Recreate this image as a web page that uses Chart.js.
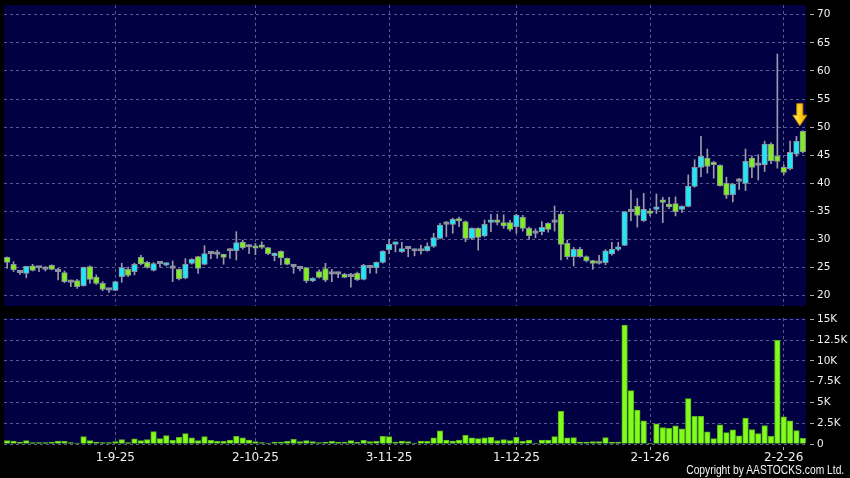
<!DOCTYPE html>
<html>
<head>
<meta charset="utf-8">
<script src="https://cdn.jsdelivr.net/npm/chart.js@4.4.1/dist/chart.umd.min.js"></script>
<style>
html,body{margin:0;padding:0;background:#000;}
#wrap{position:relative;width:850px;height:478px;overflow:hidden;background:#000;}
#pc{position:absolute;left:0;top:0;}
#vc{position:absolute;left:0;top:310px;}
#copy{position:absolute;right:6px;top:464px;color:#f2f2f2;font-family:"Liberation Sans Narrow","Liberation Sans",Arial,sans-serif;font-size:12.5px;line-height:12.5px;white-space:nowrap;transform-origin:right center;}
</style>
</head>
<body>
<div id="wrap">
  <canvas id="pc" width="850" height="310"></canvas>
  <canvas id="vc" width="850" height="168"></canvas>
  <div id="copy">Copyright by AASTOCKS.com Ltd.</div>
</div>
<script>
// ---------------- DATA ----------------
const open = [
 26.83,25.58,24.1,23.98,25.3,24.93,24.7,25.4,24.28,24.1,
 22.38,22.7,21.8,25.17,23.3,22.2,21.0,20.95,23.39,24.7,
 24.28,26.83,25.94,24.5,25.7,25.45,24.87,24.7,23.1,25.76,
 26.95,25.58,27.48,27.36,27.36,27.95,28.01,29.56,28.67,28.8,
 28.96,28.55,27.12,27.9,26.65,25.17,24.8,24.99,22.62,24.3,
 24.85,23.85,23.85,23.8,23.39,23.98,22.9,25.0,25.0,25.94,
 28.19,29.14,27.84,28.37,27.95,27.95,28.01,28.78,30.21,32.7,
 32.7,33.59,33.18,30.21,31.99,30.63,33.05,33.3,33.0,33.0,
 32.3,33.95,31.99,31.1,31.4,32.88,33.06,34.54,29.32,26.95,
 28.25,26.95,26.24,25.76,25.88,27.42,28.25,28.97,34.95,35.9,
 33.35,35.0,35.37,36.97,36.26,36.4,35.37,35.9,39.46,42.84,
 44.5,43.6,43.2,40.05,37.97,40.35,40.0,44.5,43.2,43.3,
 46.99,44.9,42.84,42.6,45.2,49.24
];
const high = [
 26.9,26.06,24.4,25.23,25.58,25.2,25.17,25.5,24.87,24.4,
 22.8,22.9,25.1,25.3,23.7,22.5,21.3,22.6,25.76,25.1,
 25.8,27.2,26.1,25.9,26.0,25.8,26.2,24.8,26.6,26.6,
 27.0,28.9,27.6,28.1,27.4,28.4,31.4,29.9,29.1,29.3,
 29.6,28.6,27.6,28.0,26.7,25.5,25.2,25.0,23.2,24.6,
 25.76,24.7,24.2,24.0,24.0,24.2,25.6,25.3,26.0,28.0,
 30.1,29.6,29.5,28.5,28.3,29.0,29.4,31.1,32.9,33.2,
 33.8,34.0,33.3,32.1,32.1,33.47,34.5,34.5,34.4,33.4,
 34.5,34.3,32.2,31.9,33.2,33.0,35.96,35.0,29.9,28.6,
 28.6,27.1,26.3,27.2,28.2,29.5,29.5,35.0,38.8,37.3,
 38.2,35.5,38.1,37.5,37.5,37.6,36.0,41.5,44.2,48.35,
 46.1,43.9,43.3,41.1,40.0,40.9,46.1,44.9,45.1,47.5,
 47.2,63.0,43.3,47.5,48.35,49.36
];
const low = [
 24.87,24.3,23.8,23.2,24.4,24.3,24.4,24.6,22.8,22.3,
 21.6,21.3,21.7,22.2,22.0,20.9,20.6,20.9,22.4,23.4,
 23.7,25.5,24.9,24.4,25.1,25.3,22.5,22.8,23.0,25.6,
 23.98,25.5,26.6,26.65,25.6,26.65,26.35,28.3,27.5,27.3,
 28.4,27.3,26.2,25.5,25.5,23.98,24.4,22.3,22.5,23.1,
 22.5,22.5,23.2,23.2,21.5,22.7,22.8,24.0,24.0,25.8,
 27.5,27.8,27.7,26.95,27.1,27.4,27.9,28.6,30.1,30.5,
 31.1,32.3,29.6,30.0,28.1,30.5,31.4,32.6,32.0,31.5,
 31.1,31.5,30.0,30.3,30.8,31.3,31.5,26.35,26.5,25.3,
 26.8,26.0,24.7,25.6,25.5,27.2,28.0,28.9,33.35,32.2,
 33.2,34.2,34.6,33.0,35.5,34.2,34.8,35.8,39.3,41.2,
 41.8,40.9,39.5,37.3,36.7,38.9,38.7,41.0,40.6,42.1,
 43.5,42.7,41.5,42.4,44.8,45.4
];
const close = [
 25.94,24.57,24.1,25.23,24.5,24.93,24.7,24.7,24.28,22.5,
 22.38,21.6,25.05,22.9,22.2,21.1,21.0,22.5,24.99,23.6,
 25.58,25.64,25.05,25.7,25.7,25.7,24.87,22.97,25.58,26.47,
 24.87,27.48,27.48,27.36,26.83,27.95,29.44,28.55,28.67,28.45,
 28.6,27.48,27.48,26.77,25.58,25.17,24.8,22.62,23.1,23.27,
 22.75,23.85,23.85,23.27,23.39,22.85,25.4,25.0,25.94,27.95,
 29.14,29.5,28.37,28.37,27.95,27.95,28.78,30.33,32.58,32.7,
 33.59,33.3,30.21,31.99,30.39,32.7,33.35,33.05,32.4,31.8,
 34.36,31.99,30.68,31.1,32.17,31.81,33.06,29.14,26.95,28.25,
 26.95,26.24,25.76,25.76,28.0,28.25,28.67,34.95,34.95,34.3,
 35.37,34.65,35.72,36.6,35.84,34.96,35.9,39.46,42.84,44.8,
 43.0,43.3,39.6,37.9,39.87,40.35,43.9,42.84,43.2,46.99,
 44.0,43.9,41.95,45.5,47.47,45.6
];
const volume = [
 405,365,200,405,160,160,160,200,365,325,
 160,120,890,405,245,160,160,285,525,160,
 610,405,525,1500,650,1010,445,810,1255,730,
 405,890,445,325,325,485,930,730,485,285,
 160,120,245,245,325,565,285,405,285,160,
 245,325,200,245,405,200,445,285,325,930,
 890,245,365,285,120,365,
 325,730,1580,485,365,485,1050,730,650,730,
 810,405,525,405,810,325,485,120,485,485,
 890,3930,730,770,245,245,285,285,770,200,
 245,14340,6440,4090,2795,80,2430,1985,1900,2190,
 1820,5470,3320,3320,1460,650,2310,1380,1700,970,
 3120,1740,1255,2230,930,12475,3280,2795,1620,690
];
const priceTicks = [20,25,30,35,40,45,50,55,60,65,70];
const volumeTicks = [0,2500,5000,7500,10000,12500,15000];
const firstDay = '2025-08-07', lastDay = '2026-02-05';
const holidays = ['2025-10-01','2025-10-29','2025-12-25','2025-12-26','2026-01-01'];

// trading-day categories (d-m-yy)
function tradingDays(a, b){
  const out = [], months = [];
  const d = new Date(a + 'T00:00:00Z'), end = new Date(b + 'T00:00:00Z');
  while (d <= end){
    const iso = d.toISOString().slice(0,10), wd = d.getUTCDay();
    if (wd !== 0 && wd !== 6 && !holidays.includes(iso)){
      out.push(d.getUTCDate() + '-' + (d.getUTCMonth()+1) + '-' + String(d.getUTCFullYear()).slice(2));
      months.push(d.getUTCMonth());
    }
    d.setUTCDate(d.getUTCDate()+1);
  }
  return {labels: out, months};
}
const cal = tradingDays(firstDay, lastDay);
const dates = cal.labels;
const tickIdx = [];
for (let i = 1; i < cal.months.length; i++) if (cal.months[i] !== cal.months[i-1]) tickIdx.push(i);

// ---------------- STYLE ----------------
const NAVY = '#000042', GRID = '#5a5a8c', TICKC = '#b0b0b0', TXT = '#f0f0f0';
const UP = '#22e6f6', DOWN = '#80ee1e', FLAT = '#9090a0', EDGE = '#8a93a0', WICK = '#9a9aa8';
const VOL = '#82fc1c', VOLEDGE = '#58b41a';

const bgPlugin = {
  id: 'bg',
  beforeDraw(c){
    const {ctx, chartArea: a} = c;
    ctx.save();
    ctx.fillStyle = '#000'; ctx.fillRect(0, 0, c.width, c.height);
    ctx.fillStyle = NAVY; ctx.fillRect(a.left, a.top, a.right - a.left, a.bottom - a.top);
    ctx.restore();
  }
};
const arrowPlugin = {
  id: 'arrow',
  afterDatasetsDraw(c){
    const meta = c.getDatasetMeta(1);
    const n = meta.data.length - 1;
    const cx = meta.data[n].x - 3;
    const tip = c.scales.y.getPixelForValue(high[n]) - 5;
    const ctx = c.ctx;
    const sw = 3, hw = 7, hh = 10.5, sh = 11.5;
    ctx.save();
    const g = ctx.createLinearGradient(cx - hw, 0, cx + hw, 0);
    g.addColorStop(0, '#fff27a'); g.addColorStop(0.5, '#ffd21a'); g.addColorStop(1, '#f0a000');
    ctx.beginPath();
    ctx.moveTo(cx - sw, tip - hh - sh);
    ctx.lineTo(cx + sw, tip - hh - sh);
    ctx.lineTo(cx + sw, tip - hh);
    ctx.lineTo(cx + hw, tip - hh);
    ctx.lineTo(cx, tip);
    ctx.lineTo(cx - hw, tip - hh);
    ctx.lineTo(cx - sw, tip - hh);
    ctx.closePath();
    ctx.fillStyle = g; ctx.fill();
    ctx.strokeStyle = '#c98a00'; ctx.lineWidth = 1; ctx.stroke();
    ctx.restore();
  }
};

const tickFilter = s => { s.ticks = tickIdx.map(v => ({value: v})); };
const noPadV = w => s => { s.width = w; s.paddingTop = 0; s.paddingBottom = 0; };
const noPadH = h => s => { s.height = h; s.paddingLeft = 0; s.paddingRight = 0; };

// ---------------- PRICE CHART ----------------
new Chart(document.getElementById('pc'), {
  type: 'bar',
  data: {
    labels: dates,
    datasets: [
      { label: 'range', data: low.map((l, i) => [l, high[i]]), backgroundColor: WICK,
        borderWidth: 0, barThickness: 1, grouped: false, order: 2 },
      { label: 'body', data: open.map((o, i) => [o, close[i]]),
        backgroundColor: ctx => { const i = ctx.dataIndex; return close[i] > open[i] ? UP : (close[i] < open[i] ? DOWN : FLAT); },
        borderColor: EDGE, borderWidth: 1, borderSkipped: false,
        barThickness: 5.6, minBarLength: 2.5, grouped: false, order: 1 }
    ]
  },
  options: {
    responsive: false, animation: false,
    layout: { padding: { left: 4, top: 5, right: 0, bottom: 4 } },
    plugins: { legend: { display: false }, tooltip: { enabled: false } },
    scales: {
      x: {
        type: 'category', offset: true,
        grid: { offset: false, color: GRID, drawTicks: false },
        border: { display: false, dash: [3, 3] },
        ticks: { display: false, autoSkip: false },
        afterBuildTicks: tickFilter,
        afterFit: noPadH(0)
      },
      y: {
        position: 'right', min: 18.17, max: 71.73,
        grid: { color: GRID, tickLength: 8, tickColor: TICKC, tickBorderDash: [0, 4, 4] },
        border: { display: false, dash: [3, 3] },
        ticks: { color: TXT, padding: 3, font: { family: 'DejaVu Sans', size: 10.5 } },
        afterBuildTicks: s => { s.ticks = priceTicks.map(v => ({value: v})); },
        afterFit: noPadV(44)
      }
    }
  },
  plugins: [bgPlugin, arrowPlugin]
});

// ---------------- VOLUME CHART ----------------
new Chart(document.getElementById('vc'), {
  type: 'bar',
  data: {
    labels: dates,
    datasets: [
      { label: 'volume', data: volume, backgroundColor: VOL, borderColor: VOLEDGE,
        borderWidth: 1, borderSkipped: 'bottom', barThickness: 5.6 }
    ]
  },
  options: {
    responsive: false, animation: false,
    layout: { padding: { left: 4, top: 8, right: 0, bottom: 0 } },
    plugins: { legend: { display: false }, tooltip: { enabled: false } },
    scales: {
      x: {
        type: 'category', offset: true,
        grid: { offset: false, color: GRID, drawTicks: true, tickLength: 6, tickColor: TICKC, tickBorderDash: [0, 3, 3] },
        border: { display: false, dash: [3, 3] },
        ticks: { color: TXT, padding: 1, autoSkip: false, maxRotation: 0, font: { family: 'DejaVu Sans', size: 12 } },
        afterBuildTicks: tickFilter,
        afterFit: noPadH(34)
      },
      y: {
        position: 'right', min: 0, max: 15180,
        grid: { color: GRID, tickLength: 8, tickColor: TICKC, tickBorderDash: [0, 4, 4] },
        border: { display: false, dash: [3, 3] },
        ticks: { color: TXT, padding: 3, font: { family: 'DejaVu Sans', size: 10.5 },
          callback: v => v === 0 ? '0' : (v / 1000) + 'K' },
        afterBuildTicks: s => { s.ticks = volumeTicks.map(v => ({value: v})); },
        afterFit: noPadV(44)
      }
    }
  },
  plugins: [bgPlugin]
});

// fit copyright to the reference width
const cp = document.getElementById('copy');
const w = cp.getBoundingClientRect().width;
if (w > 0) cp.style.transform = 'scaleX(' + (158 / w) + ')';
</script>
</body>
</html>
